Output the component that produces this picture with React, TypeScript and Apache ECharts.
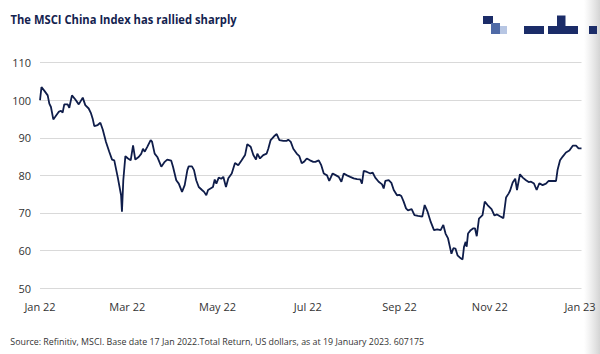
import React, { useEffect, useRef } from "react";
import * as echarts from "echarts";

// Days since 1 Jan 2022 and index level
const dayOffsets: number[] = [
  0, 1.0, 3.0, 5.2, 6.3, 7.4, 9.0, 10.3, 12.6, 14.2, 15.3, 16.4, 18.7, 19.8, 21.6, 23.9, 26.2, 28.9, 30.6, 32.9,
  34.5, 35.6, 36.7, 39.0, 40.8, 42.4, 44.6, 46.8, 48.7, 50.2, 52.5, 54.8, 55.4, 56.3, 57.7, 59.5, 61.3, 62.9, 64.4, 66.7,
  68.5, 69.6, 70.8, 72.5, 74.8, 75.7, 77.5, 79.3, 82.0, 84.3, 86.0, 88.7, 89.9, 92.1, 93.8, 96.0, 97.8, 99.6, 100.5, 102.7,
  104.1, 105.6, 107.3, 109.5, 110.9, 112.4, 113.6, 116.9, 118.1, 119.2, 120.8, 122.5, 123.9, 125.7, 127.3, 129.6, 131.8, 134.0, 136.3, 138.6,
  140.1, 142.4, 144.2, 146.0, 146.9, 148.7, 150.9, 153.2, 154.3, 155.9, 158.2, 160.0, 161.8, 164.5, 166.8, 167.8, 169.5, 171.2, 173.5, 175.3,
  176.9, 178.4, 180.3, 182.5, 184.7, 186.1, 188.4, 190.1, 191.8, 194.0, 195.5, 197.8, 200.1, 201.9, 203.7, 205.3, 207.5, 209.7, 212.0, 214.3,
  216.5, 217.6, 218.8, 221.0, 223.3, 224.9, 226.6, 228.9, 231.2, 232.3, 233.4, 235.7, 237.5, 239.1, 241.3, 242.9, 244.2, 245.8, 247.4, 248.7,
  251.2, 253.1, 255.5, 258.4, 260.0, 261.8, 264.1, 266.3, 268.5, 270.8, 272.6, 274.1, 275.8, 278.1, 279.4, 280.8, 282.2, 284.4, 285.6, 286.6,
  287.7, 288.4, 289.3, 291.1, 292.9, 294.0, 295.2, 296.7, 299.1, 300.6, 302.5, 305.2, 307.2, 308.9, 310.9, 313.2, 315.0, 316.8, 317.7, 319.5,
  321.2, 322.4, 324.4, 326.3, 328.5, 330.3, 331.9, 333.9, 335.7, 337.5, 339.7, 342.0, 343.8, 346.6, 348.8, 349.8, 351.5, 353.3, 355.5, 357.8,
  360.1, 362.3, 364.0, 366.0,
];

const indexLevels: number[] = [
  100, 103.5, 102.5, 101.3, 99.1, 98.2, 94.9, 95.6, 96.9, 97.2, 96.7, 98.9, 98.9, 98.0, 101.3, 100.2, 98.9, 100.7, 98.7, 97.8,
  96.5, 95.1, 93.1, 93.4, 94.0, 92.2, 88.9, 86.3, 84.2, 84.0, 79.6, 74.7, 70.3, 78.7, 85.1, 84.5, 84.0, 88.0, 84.2, 84.9,
  85.8, 87.1, 86.3, 87.6, 89.4, 89.0, 85.8, 84.9, 82.3, 83.6, 84.2, 83.9, 82.3, 78.7, 77.8, 75.6, 77.4, 81.4, 82.4, 82.4,
  81.4, 78.7, 76.9, 76.1, 75.6, 74.7, 76.1, 76.9, 78.9, 77.8, 79.4, 79.1, 79.6, 76.9, 79.2, 80.5, 83.3, 82.7, 84.0, 85.4,
  88.3, 87.6, 85.4, 84.2, 85.8, 84.5, 85.4, 85.8, 87.1, 89.4, 90.4, 91.0, 89.4, 89.2, 89.2, 89.5, 88.9, 87.1, 85.8, 85.1,
  83.2, 83.6, 84.5, 84.0, 83.6, 83.6, 84.0, 82.7, 80.5, 80.0, 78.5, 80.5, 80.0, 79.6, 78.3, 80.5, 80.0, 79.6, 79.2, 79.0,
  78.9, 77.8, 81.2, 80.9, 80.5, 80.7, 79.4, 78.3, 77.6, 76.5, 78.5, 78.7, 78.0, 76.1, 74.7, 74.8, 74.5, 73.0, 71.2, 70.7,
  71.0, 69.4, 69.2, 69.0, 72.1, 70.5, 67.6, 65.4, 65.6, 65.4, 66.8, 64.5, 63.2, 59.1, 60.6, 60.5, 58.7, 57.9, 57.6, 61.0,
  62.3, 61.0, 64.5, 65.4, 65.9, 65.9, 63.8, 68.5, 69.4, 73.0, 72.1, 71.0, 69.3, 69.6, 69.1, 68.6, 74.1, 75.2, 75.9, 78.1,
  79.1, 76.1, 80.3, 79.4, 78.7, 78.2, 78.3, 77.8, 76.1, 77.9, 77.4, 77.8, 78.5, 78.5, 78.5, 81.4, 84.0, 85.0, 86.1, 86.6,
  87.9, 87.9, 87.2, 87.2,
];

const tickDays: number[] = [0, 59, 120, 181, 243, 304, 365];
const tickLabels: string[] = ["Jan 22", "Mar 22", "May 22", "Jul 22", "Sep 22", "Nov 22", "Jan 23"];

const titleText = "The MSCI China Index has rallied sharply";
const sourceText =
  "Source: Refinitiv, MSCI. Base date 17 Jan 2022.Total Return, US dollars, as at 19 January 2023. 607175";

const NAVY = "#1b2c68";

export default function App() {
  const ref = useRef<HTMLDivElement>(null);

  useEffect(() => {
    if (!ref.current) return;
    const chart = echarts.init(ref.current, undefined, { renderer: "svg" });
    const seriesData = dayOffsets.map((d, i) => [d, indexLevels[i]]);

    chart.setOption({
      animation: false,
      backgroundColor: "#ffffff",
      textStyle: { fontFamily: "'Open Sans', sans-serif" },
      grid: { left: 40, right: 18.5, top: 62.7, bottom: 66, containLabel: false },
      xAxis: {
        type: "value",
        min: 0,
        max: 366,
        axisLine: { show: false },
        axisTick: { show: false },
        splitLine: { show: false },
        axisLabel: {
          customValues: tickDays,
          margin: 13,
          fontSize: 11,
          color: "#333333",
          fontFamily: "'Open Sans', sans-serif",
          formatter: (v: number) => {
            const idx = tickDays.indexOf(Math.round(v));
            return idx >= 0 ? tickLabels[idx] : "";
          },
        },
      },
      yAxis: {
        type: "value",
        min: 50,
        max: 110,
        interval: 10,
        axisLine: { show: false },
        axisTick: { show: false },
        axisLabel: {
          margin: 9,
          fontSize: 11,
          color: "#333333",
          fontFamily: "'Open Sans', sans-serif",
        },
        splitLine: { show: true, lineStyle: { color: "#d9d9d9", width: 1 } },
      },
      series: [
        {
          type: "line",
          data: seriesData,
          showSymbol: false,
          symbol: "none",
          lineStyle: { color: "#0f1d4a", width: 1.8 },
          z: 3,
        },
      ],
      graphic: [
        {
          type: "rect",
          shape: { x: 584, y: 0, width: 16, height: 354 },
          style: {
            fill: new echarts.graphic.LinearGradient(0, 0, 1, 0, [
              { offset: 0, color: "rgba(220,220,220,0)" },
              { offset: 1, color: "rgba(212,212,212,1)" },
            ]),
          },
          silent: true,
          z: 0,
        },
        {
          type: "text",
          x: 10.5,
          y: 19,
          scaleX: 0.935,
          style: {
            text: titleText,
            fontSize: 12,
            fontWeight: "bold",
            fill: "#14234f",
            fontFamily: "'Open Sans', sans-serif",
            verticalAlign: "middle",
          },
        },
        {
          type: "text",
          x: 10.3,
          y: 341.6,
          scaleX: 0.985,
          style: {
            text: sourceText,
            fontSize: 9,
            fill: "#333333",
            fontFamily: "'Open Sans', sans-serif",
            verticalAlign: "middle",
          },
        },
        { type: "rect", shape: { x: 483, y: 16, width: 10, height: 8 }, style: { fill: NAVY } },
        { type: "rect", shape: { x: 491, y: 23, width: 9, height: 11 }, style: { fill: "#4f6aa6" } },
        { type: "rect", shape: { x: 500, y: 26, width: 7, height: 8 }, style: { fill: "#b7c6e3" } },
        { type: "rect", shape: { x: 524, y: 26, width: 20, height: 8 }, style: { fill: NAVY } },
        { type: "rect", shape: { x: 557, y: 15.5, width: 8.5, height: 11 }, style: { fill: NAVY } },
        { type: "rect", shape: { x: 548, y: 26, width: 30, height: 8 }, style: { fill: NAVY } },
        { type: "rect", shape: { x: 589, y: 26, width: 8, height: 8 }, style: { fill: NAVY } },
      ],
    });

    return () => chart.dispose();
  }, []);

  return <div ref={ref} style={{ width: 600, height: 354, position: "absolute", left: 0, top: 0 }} />;
}
